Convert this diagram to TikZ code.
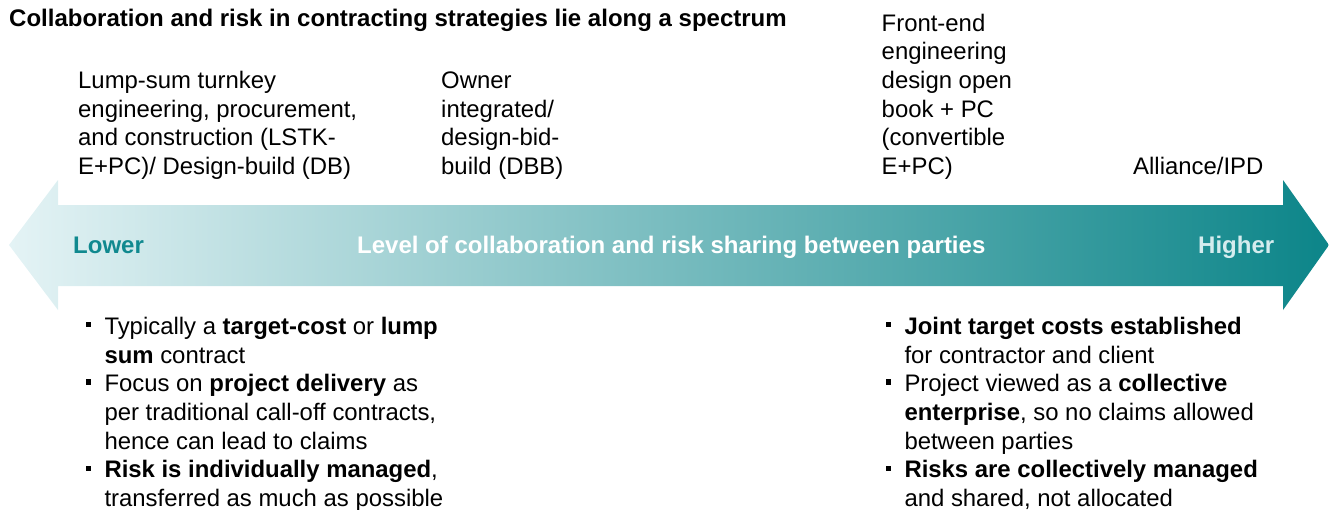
\documentclass[tikz,border=0pt]{standalone}
\usepackage{fontspec}
\setmainfont{Liberation Sans}
\usepackage{xcolor}
\definecolor{tealdark}{RGB}{12,133,137}
\definecolor{teallight}{RGB}{228,243,245}
\definecolor{tealtext}{RGB}{16,137,143}
\definecolor{tealpale}{RGB}{213,236,238}
\newcommand{\sqbul}{\llap{\rule[7pt]{5.3pt}{5.3pt}\hspace{13.5pt}}}
\tikzset{
  caption/.style={anchor=base west, inner sep=0pt, align=left,
                  font=\fontsize{23.9}{28.7}\selectfont},
  heading/.style={anchor=base west, inner sep=0pt,
                  font=\fontsize{24}{28.7}\selectfont\bfseries},
  scale label/.style={anchor=base west, inner sep=0pt,
                      font=\fontsize{24}{28.7}\selectfont\bfseries}
}
\begin{document}
\begin{tikzpicture}[x=1pt, y=-1pt]
  \useasboundingbox (0,0) rectangle (1329,509);
  % spectrum arrow
  \shade[left color=teallight, right color=tealdark]
    (9,245) -- (58,180) -- (58,205) -- (1283,205) -- (1283,180) -- (1329,245)
    -- (1283,310) -- (1283,286) -- (58,286) -- (58,310) -- cycle;
  \node[heading] (title) at (9,26.7)
    {Collaboration and risk in contracting strategies lie along a spectrum};
  % contract types above the arrow (anchored at last baseline)
  \node[caption] (lstk) at (78,174.5) {Lump-sum turnkey\\engineering, procurement,\\and construction (LSTK-\\E+PC)/ Design-build (DB)};
  \node[caption] (dbb) at (441,174.5) {Owner\\integrated/\\design-bid-\\build (DBB)};
  \node[caption] (feed) at (881.5,174.5) {Front-end\\engineering\\design open\\book + PC\\(convertible\\E+PC)};
  \node[caption] (ipd) at (1133,174.5) {Alliance/IPD};
  % labels on the arrow
  \node[scale label, text=tealtext] (lower) at (73,253) {Lower};
  \node[scale label, text=white] (level) at (357,253)
    {Level of collaboration and risk sharing between parties};
  \node[scale label, text=tealpale] (higher) at (1198,253) {Higher};
  % characteristics below the arrow
  \node[caption] (left list) at (104.3,506.5)
    {\sqbul Typically a \textbf{target-cost} or \textbf{lump}\\
     \textbf{sum} contract\\
     \sqbul Focus on \textbf{project delivery} as\\
     per traditional call-off contracts,\\
     hence can lead to claims\\
     \sqbul\textbf{Risk is individually managed},\\
     transferred as much as possible};
  \node[caption] (right list) at (904.3,506.5)
    {\sqbul\textbf{Joint target costs established}\\
     for contractor and client\\
     \sqbul Project viewed as a \textbf{collective}\\
     \textbf{enterprise}, so no claims allowed\\
     between parties\\
     \sqbul\textbf{Risks are collectively managed}\\
     and shared, not allocated};
\end{tikzpicture}
\end{document}
